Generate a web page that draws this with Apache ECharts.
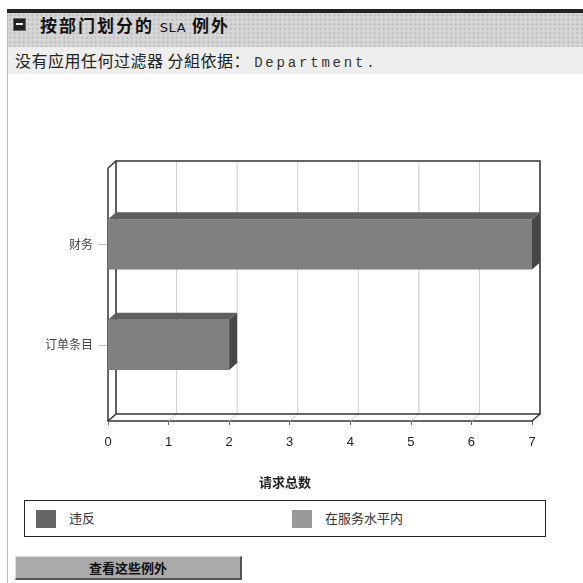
<!DOCTYPE html>
<html>
<head>
<meta charset="utf-8">
<script src="https://cdn.jsdelivr.net/npm/echarts@6/dist/echarts.min.js"></script>
<style>
  body { margin: 0; width: 583px; height: 583px; background: #ffffff; position: relative; overflow: hidden;
         font-family: "Noto Sans CJK SC", sans-serif; }
  .topbar { position: absolute; left: 7px; top: 9px; width: 576px; height: 4px; background: #222; }
  .leftline { position: absolute; left: 7px; top: 13px; width: 1px; height: 570px; background: #bdbdbd; }
  .header { position: absolute; left: 8px; top: 13px; width: 575px; height: 34px; background-color: #d6d6d6;
            background-image: radial-gradient(#bcbcbc 0.9px, transparent 1.3px); background-size: 4.5px 4.5px; }
  .icon { position: absolute; left: 5px; top: 5px; width: 11px; height: 11px; background: #222; border: 1px solid #666; }
  .icon::after { content: ""; position: absolute; left: 2px; top: 4px; width: 7px; height: 2px; background: #eee; }
  .title { position: absolute; left: 32px; top: 0px; font-size: 17px; font-weight: bold; color: #111; line-height: 24px;
           letter-spacing: 2px; white-space: nowrap; }
  .title .en { font-family: "DejaVu Sans", sans-serif; font-size: 13px; font-weight: normal; letter-spacing: 0.5px; }
  .filter { position: absolute; left: 8px; top: 47px; width: 575px; height: 27px; background: #eeeeee; }
  .filter span.txt { position: absolute; left: 7px; top: 2px; font-size: 16px; color: #222; line-height: 22px; white-space: nowrap;
                     letter-spacing: 0.5px; }
  .filter .mono { font-family: "Liberation Mono", "DejaVu Sans Mono", monospace; font-size: 14px; letter-spacing: 2.8px; color: #333; }
  .legend { position: absolute; left: 24px; top: 500px; width: 520px; height: 35px; border: 1.5px solid #222; background: #fff; }
  .sw { position: absolute; top: 9px; width: 20px; height: 18px; }
  .lt { position: absolute; top: 7px; font-size: 13px; color: #333; line-height: 20px; }
  .btn { position: absolute; left: 15px; top: 556px; width: 224px; height: 21px; background: #aaaaaa;
         border-top: 1px solid #dddddd; border-left: 1px solid #dddddd; border-right: 2px solid #555; border-bottom: 2px solid #555;
         text-align: center; font-size: 13px; font-weight: bold; line-height: 21px; color: #111; }
  #chart { position: absolute; left: 0; top: 0; width: 583px; height: 583px; z-index: 2; }
</style>
</head>
<body>
<div class="topbar"></div>
<div class="leftline"></div>
<div class="header">
  <div class="icon"></div>
  <div class="title">按部门划分的 <span class="en">SLA</span> 例外</div>
</div>
<div class="filter"><span class="txt">没有应用任何过滤器 分組依据： <span class="mono">Department.</span></span></div>
<div class="legend">
  <div class="sw" style="left:11px;background:#666666"></div>
  <div class="lt" style="left:44px">违反</div>
  <div class="sw" style="left:267px;background:#999999"></div>
  <div class="lt" style="left:300px">在服务水平内</div>
</div>
<div class="btn">查看这些例外</div>
<div id="chart"></div>

<script>
// 数据
var categories = ['财务', '订单条目'];
var totals = [7, 2];
var xTicks = [0, 1, 2, 3, 4, 5, 6, 7];
var axisName = '请求总数';

// 3D 偏移
var DX = 8, DY = 7, PAD = 26;

var myChart = echarts.init(document.getElementById('chart'), null, { renderer: 'canvas' });

function renderFrame(params, api) {
  var cs = params.coordSys;
  var x = api.coord([api.value(0), 0])[0];
  var ft = cs.y - PAD, fb = cs.y + cs.height + PAD;
  var bt = ft - DY, bb = fb - DY;
  var left = cs.x, right = cs.x + cs.width;
  var gridStyle = { stroke: '#cfcfcf', lineWidth: 1 };
  var edge = { stroke: '#333', lineWidth: 1.5, fill: null };
  var children = [
    { type: 'line', shape: { x1: x + DX, y1: bt, x2: x + DX, y2: bb }, style: gridStyle },
    { type: 'line', shape: { x1: x, y1: fb, x2: x + DX, y2: bb }, style: gridStyle }
  ];
  if (params.dataIndex === 0) {
    children.push(
      { type: 'polygon', z2: 10, shape: { points: [[left + DX, bb], [left + DX, bt], [right + DX, bt], [right + DX, bb]] }, style: edge },
      { type: 'line', z2: 10, shape: { x1: left, y1: ft, x2: left, y2: fb }, style: edge },
      { type: 'line', z2: 10, shape: { x1: left, y1: ft, x2: left + DX, y2: bt }, style: edge },
      { type: 'line', z2: 10, shape: { x1: left, y1: fb, x2: left + DX, y2: bb }, style: edge },
      { type: 'line', z2: 10, shape: { x1: right, y1: fb, x2: right + DX, y2: bb }, style: edge }
    );
  }
  return { type: 'group', children: children };
}

function renderBar(params, api) {
  var val = api.value(0), cat = api.value(1);
  var p0 = api.coord([0, cat]);
  var p1 = api.coord([val, cat]);
  var h = api.size([0, 1])[1] * 0.5;
  var y0 = p0[1] - h / 2;
  return {
    type: 'group',
    children: [
      { type: 'rect', shape: { x: p0[0], y: y0, width: p1[0] - p0[0], height: h }, style: { fill: '#808080' } },
      { type: 'polygon', shape: { points: [[p0[0], y0], [p1[0], y0], [p1[0] + DX, y0 - DY], [p0[0] + DX, y0 - DY]] }, style: { fill: '#5f5f5f' } },
      { type: 'polygon', shape: { points: [[p1[0], y0], [p1[0] + DX, y0 - DY], [p1[0] + DX, y0 + h - DY], [p1[0], y0 + h]] }, style: { fill: '#464646' } }
    ]
  };
}

var option = {
  animation: false,
  grid: { left: 108, right: 51, top: 194, height: 201 },
  xAxis: {
    type: 'value',
    min: 0,
    max: 7,
    interval: 1,
    offset: PAD,
    axisLine: { show: true, lineStyle: { color: '#333', width: 1.5 } },
    axisTick: { show: true, length: 4, lineStyle: { color: '#666' } },
    axisLabel: { margin: 15, color: '#222', fontSize: 13, fontFamily: 'Liberation Sans, Arial, sans-serif' },
    splitLine: { show: false }
  },
  yAxis: {
    type: 'category',
    data: categories,
    inverse: true,
    axisLine: { show: false },
    axisTick: { show: true, alignWithLabel: true, length: 10, lineStyle: { color: '#bbb' } },
    axisLabel: { margin: 15, color: '#444', fontSize: 12, fontFamily: 'Noto Sans CJK SC' }
  },
  graphic: [
    {
      type: 'text',
      style: { x: 285, y: 482, text: axisName, textAlign: 'center', textVerticalAlign: 'middle',
               font: 'bold 13px "Noto Sans CJK SC"', fill: '#222' }
    }
  ],
  series: [
    {
      type: 'custom',
      name: 'frame',
      z: 1,
      renderItem: renderFrame,
      data: xTicks.map(function (v) { return [v, 0]; }),
      encode: { x: 0, y: 1 },
      silent: true
    },
    {
      type: 'custom',
      name: axisName,
      z: 3,
      renderItem: renderBar,
      data: totals.map(function (v, i) { return [v, i]; }),
      encode: { x: 0, y: 1 }
    }
  ]
};
myChart.setOption(option);
</script>
</body>
</html>
